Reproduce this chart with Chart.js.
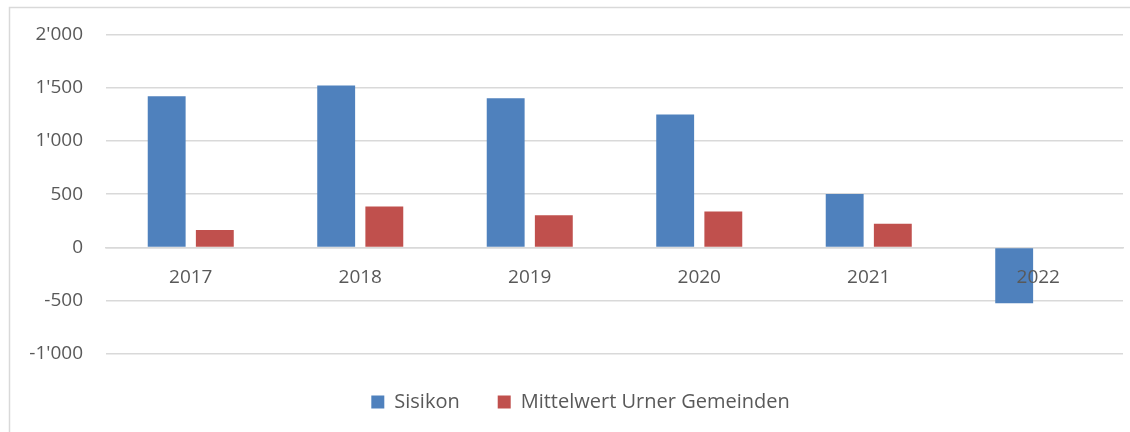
<!DOCTYPE html>
<html>
<head>
<meta charset="utf-8">
<script src="https://cdn.jsdelivr.net/npm/chart.js@4"></script>
<style>
  html, body { margin: 0; padding: 0; background: #fff; }
  #wrap { width: 1130px; height: 432px; position: relative; }
</style>
</head>
<body>
<div id="wrap"><canvas id="myChart"></canvas></div>
<script>
const years = ["2017", "2018", "2019", "2020", "2021", "2022"];
const sisikon = [1420, 1520, 1400, 1248, 501, -524];
const mittelwert = [163, 385, 302, 337, 223, null];
const yTicks = [-1000, -500, 0, 500, 1000, 1500, 2000];

const textColor = "#595959";
const gridColor = "#d9d9d9";
const fontFamily = "'Open Sans', sans-serif";

// apostrophe as thousands separator, like 2'000
function formatNumber(v) {
  const s = String(Math.abs(v)).replace(/\B(?=(\d{3})+(?!\d))/g, "'");
  return (v < 0 ? "-" : "") + s;
}

// light frame around the whole chart (cut off at right and bottom)
const chartFrame = {
  id: "chartFrame",
  beforeDraw(chart) {
    const ctx = chart.ctx;
    ctx.save();
    ctx.strokeStyle = gridColor;
    ctx.lineWidth = 1.5;
    ctx.strokeRect(9.5, 7.5, 1200, 500);
    ctx.restore();
  }
};

// the original legend is centred on a wider frame, nudge it right
const legendShift = {
  id: "legendShift",
  afterLayout(chart) {
    chart.legend.left += 9;
    chart.legend.right += 9;
  }
};

new Chart(document.getElementById("myChart"), {
  type: "bar",
  data: {
    labels: years,
    datasets: [
      {
        label: "Sisikon",
        data: sisikon,
        backgroundColor: "#4f81bd",
        barPercentage: 0.787,
        categoryPercentage: 0.568
      },
      {
        label: "Mittelwert Urner Gemeinden",
        data: mittelwert,
        backgroundColor: "#c0504d",
        barPercentage: 0.787,
        categoryPercentage: 0.568
      }
    ]
  },
  options: {
    responsive: true,
    maintainAspectRatio: false,
    animation: false,
    layout: {
      padding: { top: 31, left: 20, right: 7, bottom: 10 }
    },
    plugins: {
      legend: {
        position: "bottom",
        labels: {
          color: textColor,
          font: { family: fontFamily, size: 20 },
          boxWidth: 13,
          boxHeight: 13,
          padding: 38
        }
      },
      tooltip: { enabled: false }
    },
    scales: {
      x: {
        position: { y: 0 },
        grid: { display: false, drawTicks: false },
        border: { display: true, color: gridColor, width: 1.5 },
        ticks: {
          color: textColor,
          font: { family: fontFamily, size: 19 },
          padding: 19,
          z: 1
        }
      },
      y: {
        min: -1000,
        max: 2000,
        afterBuildTicks(scale) {
          scale.ticks = yTicks.map(v => ({ value: v }));
        },
        afterFit(scale) {
          scale.width = 106 - 20;
        },
        grid: { color: gridColor, lineWidth: 1.5, drawTicks: false },
        border: { display: false },
        ticks: {
          color: textColor,
          font: { family: fontFamily, size: 19 },
          padding: 23,
          callback: v => formatNumber(v)
        }
      }
    }
  },
  plugins: [chartFrame, legendShift]
});
</script>
</body>
</html>
